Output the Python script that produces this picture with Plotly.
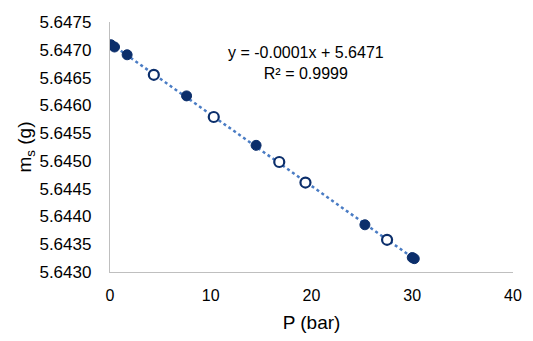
import numpy as np
import plotly.graph_objects as go

# Data
p_filled = [0.1, 0.45, 1.7, 7.6, 14.5, 25.3, 30.0, 30.2]
m_filled = [5.64709, 5.64705, 5.64691, 5.64617, 5.64528, 5.64385, 5.64326, 5.64324]
p_open = [4.35, 10.3, 16.8, 19.4, 27.5]
m_open = [5.64655, 5.64579, 5.64498, 5.64461, 5.64358]

eq_text = "y = -0.0001x + 5.6471<br>R² = 0.9999"

x_all = np.array(p_filled + p_open)
y_all = np.array(m_filled + m_open)
slope, intercept = np.polyfit(x_all, y_all, 1)
x_line = np.array([x_all.min(), x_all.max()])
y_line = slope * x_line + intercept

navy = "#0B2E6B"
fig = go.Figure()
fig.add_trace(go.Scatter(x=x_line, y=y_line, mode="lines",
                         line=dict(color="#4A7CC4", width=2.5, dash="dot"),
                         hoverinfo="skip", showlegend=False))
fig.add_trace(go.Scatter(x=p_filled, y=m_filled, mode="markers",
                         marker=dict(color=navy, size=10, line=dict(color=navy, width=1)),
                         showlegend=False))
fig.add_trace(go.Scatter(x=p_open, y=m_open, mode="markers",
                         marker=dict(color="white", size=10, line=dict(color=navy, width=2.2)),
                         showlegend=False))

fig.add_annotation(x=19.5, y=5.64677, xref="x", yref="y", text=eq_text,
                   showarrow=False, align="center",
                   font=dict(family="Liberation Sans, Arial", size=16, color="#000000"))

fig.update_layout(
    width=533, height=341,
    margin=dict(l=110, r=11, t=22, b=61),
    paper_bgcolor="white", plot_bgcolor="white",
    font=dict(family="Liberation Sans, Arial", size=16, color="#000000"),
    xaxis=dict(range=[0, 40], tickvals=[0, 10, 20, 30, 40], showgrid=False,
               zeroline=False, showline=True, linecolor="#BFBFBF", linewidth=1.3,
               ticks="", ticklabelstandoff=9, title=dict(text="P (bar)", standoff=12)),
    yaxis=dict(range=[5.6430, 5.6475], tickvals=[5.6430 + 0.0005 * i for i in range(10)],
               tickformat=".4f", showgrid=False, zeroline=False, showline=True,
               linecolor="#BFBFBF", linewidth=1.3, ticks="", ticklabelstandoff=14,
               tickfont=dict(size=17),
               title=dict(text="m<sub>s</sub> (g)", standoff=2)),
)
fig.write_html("out.html")
